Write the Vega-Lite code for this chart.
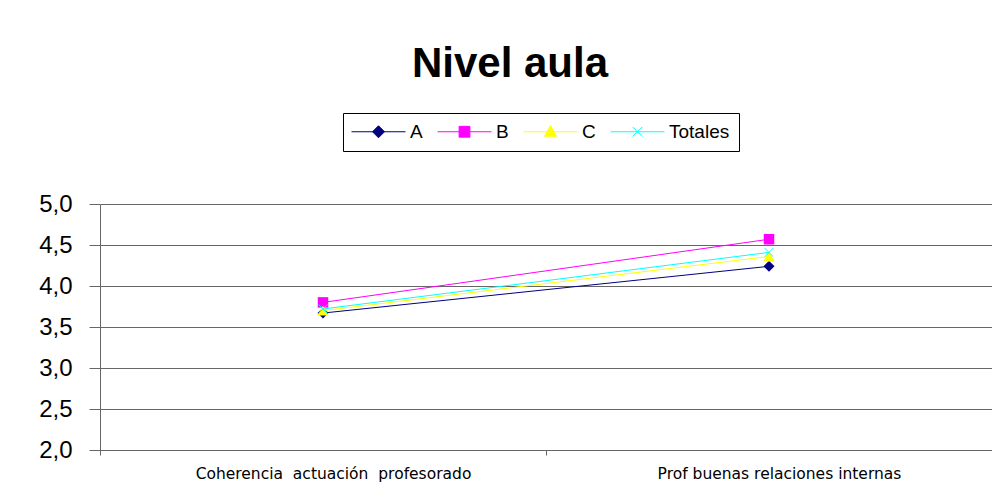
{
  "$schema": "https://vega.github.io/schema/vega-lite/v6.json",
  "width": 892,
  "height": 246,
  "autosize": {"type": "none"},
  "padding": {"left": 100, "top": 204, "right": 0, "bottom": 47},
  "background": "white",
  "title": {
    "text": "Nivel aula",
    "font": "Liberation Sans",
    "fontSize": 42,
    "fontWeight": "bold",
    "color": "black",
    "anchor": "middle",
    "frame": "group",
    "dx": -36,
    "offset": 27
  },
  "data": {
    "values": [
      {"categoria": "Coherencia\u00a0 actuación\u00a0 profesorado", "serie": "A", "valor": 3.67},
      {"categoria": "Coherencia\u00a0 actuación\u00a0 profesorado", "serie": "B", "valor": 3.80},
      {"categoria": "Coherencia\u00a0 actuación\u00a0 profesorado", "serie": "C", "valor": 3.70},
      {"categoria": "Coherencia\u00a0 actuación\u00a0 profesorado", "serie": "Totales", "valor": 3.72},
      {"categoria": "Prof buenas relaciones internas", "serie": "A", "valor": 4.24},
      {"categoria": "Prof buenas relaciones internas", "serie": "B", "valor": 4.57},
      {"categoria": "Prof buenas relaciones internas", "serie": "C", "valor": 4.36},
      {"categoria": "Prof buenas relaciones internas", "serie": "Totales", "valor": 4.41}
    ]
  },
  "encoding": {
    "x": {
      "field": "categoria",
      "type": "nominal",
      "sort": null,
      "scale": {"paddingInner": 0, "paddingOuter": 0},
      "axis": {
        "title": null,
        "labelAngle": 0,
        "labelFont": "DejaVu Sans",
        "labelFontSize": 15.5,
        "labelColor": "black",
        "labelPadding": 11,
        "labelOffset": 10,
        "labelLimit": 0,
        "tickBand": "extent",
        "tickSize": 5,
        "tickColor": "#666666",
        "domainColor": "#666666",
        "grid": false
      }
    },
    "y": {
      "field": "valor",
      "type": "quantitative",
      "scale": {"domain": [2, 5], "nice": false, "zero": false},
      "axis": {
        "title": null,
        "values": [2, 2.5, 3, 3.5, 4, 4.5, 5],
        "labelExpr": "replace(format(datum.value, '.1f'), '.', ',')",
        "labelFont": "Liberation Sans",
        "labelFontSize": 24,
        "labelColor": "black",
        "labelPadding": 17,
        "tickSize": 11,
        "tickColor": "#666666",
        "domainColor": "#666666",
        "grid": true,
        "gridColor": "#666666",
        "gridWidth": 1,
        "gridOpacity": 1
      }
    },
    "color": {
      "field": "serie",
      "type": "nominal",
      "scale": {
        "domain": ["A", "B", "C", "Totales"],
        "range": ["#000080", "#FF00FF", "#FFFF00", "#00FFFF"]
      },
      "legend": {
        "title": null,
        "orient": "none",
        "legendX": 243,
        "legendY": -91,
        "direction": "horizontal",
        "strokeColor": "black",
        "padding": 9,
        "labelFont": "Liberation Sans",
        "labelFontSize": 19,
        "labelColor": "black",
        "symbolSize": 144,
        "symbolOffset": 17,
        "labelOffset": 22,
        "columnPadding": 12,
        "symbolStrokeWidth": 1,
        "encode": {
          "symbols": {
            "update": {
              "shape": {"signal": "datum.value === 'A' ? 'M-4.5,0L4.5,0M-1,0L0,-1L1,0L0,1Z' : datum.value === 'B' ? 'M-4.5,0L4.5,0M-0.9,-0.9L0.9,-0.9L0.9,0.9L-0.9,0.9Z' : datum.value === 'C' ? 'M-4.5,0L4.5,0M-1,0.75L0,-1L1,0.75Z' : 'M-4.5,0L4.5,0M-0.8,-0.8L0.8,0.8M0.8,-0.8L-0.8,0.8'"},
              "fill": {"scale": "color", "field": "value"},
              "stroke": {"scale": "color", "field": "value"},
              "strokeWidth": {"value": 1},
              "opacity": {"value": 1}
            }
          }
        }
      }
    }
  },
  "layer": [
    {
      "mark": {"type": "line", "strokeWidth": 1},
      "encoding": {}
    },
    {
      "transform": [{"filter": "datum.serie === 'A'"}],
      "mark": {"type": "point", "shape": "diamond", "filled": true, "size": 121, "strokeWidth": 1, "opacity": 1},
      "encoding": {}
    },
    {
      "transform": [{"filter": "datum.serie === 'B'"}],
      "mark": {"type": "point", "shape": "square", "filled": true, "size": 110, "strokeWidth": 1, "opacity": 1},
      "encoding": {}
    },
    {
      "transform": [{"filter": "datum.serie === 'C'"}],
      "mark": {"type": "point", "shape": "triangle-up", "filled": true, "size": 130, "strokeWidth": 1, "opacity": 1},
      "encoding": {}
    },
    {
      "transform": [{"filter": "datum.serie === 'Totales'"}],
      "mark": {"type": "point", "shape": "M-0.8,-0.8L0.8,0.8M0.8,-0.8L-0.8,0.8", "filled": false, "size": 121, "strokeWidth": 1, "opacity": 1},
      "encoding": {}
    }
  ],
  "config": {
    "view": {"stroke": null},
    "axis": {"domainWidth": 1, "tickWidth": 1}
  }
}
